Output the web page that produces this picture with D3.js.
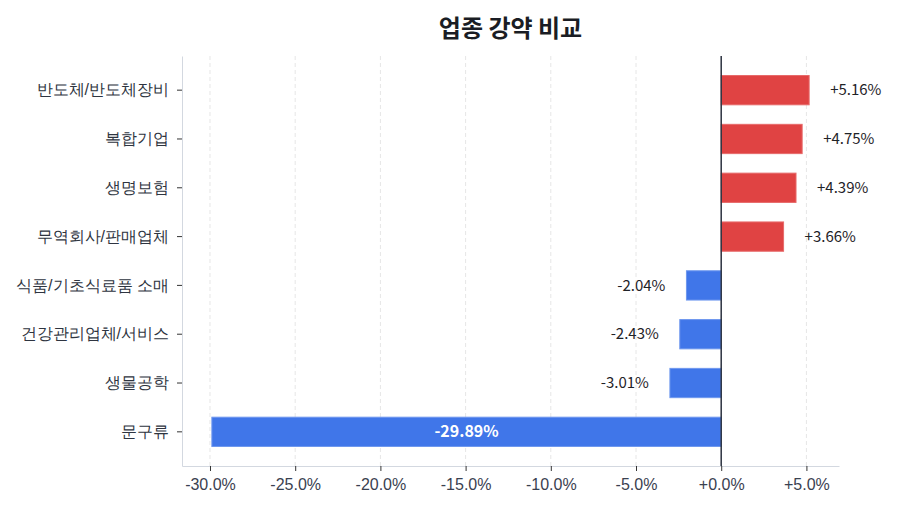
<!DOCTYPE html>
<html>
<head>
<meta charset="utf-8">
<script src="https://cdn.jsdelivr.net/npm/d3@7"></script>
<style>
  body { margin: 0; background: #fff; }
  svg { font-family: "Noto Sans CJK KR", "Noto Sans", sans-serif; }
</style>
</head>
<body>
<div id="chart"></div>
<script>
const sectors = ["반도체/반도체장비", "복합기업", "생명보험", "무역회사/판매업체",
  "식품/기초식료품 소매", "건강관리업체/서비스", "생물공학", "문구류"];
const changes = [5.16, 4.75, 4.39, 3.66, -2.04, -2.43, -3.01, -29.89];
const tickValues = [-30, -25, -20, -15, -10, -5, 0, 5];

const width = 900, height = 514;
const margin = { top: 56, right: 61, bottom: 48, left: 182 };

const data = sectors.map((s, i) => ({ name: s, value: changes[i] }));

const lo = d3.min(changes), hi = d3.max(changes);
const pad = (hi - lo) * 0.05;

const x = d3.scaleLinear()
  .domain([lo - pad, hi + pad])
  .range([margin.left, width - margin.right]);

const y = d3.scaleBand()
  .domain(sectors)
  .range([margin.top, height - margin.bottom])
  .paddingInner(0.4)
  .paddingOuter(0.4);

const svg = d3.select("#chart").append("svg")
  .attr("width", width)
  .attr("height", height);

const fmt = v => (v >= 0 ? "+" : "") + v.toFixed(1) + "%";

// grid
svg.append("g")
  .selectAll("line")
  .data(tickValues)
  .join("line")
  .attr("x1", d => x(d)).attr("x2", d => x(d))
  .attr("y1", margin.top).attr("y2", height - margin.bottom)
  .attr("stroke", "#e6e6e6")
  .attr("stroke-dasharray", "4,3");

// bars
svg.append("g")
  .selectAll("rect")
  .data(data)
  .join("rect")
  .attr("x", d => x(Math.min(0, d.value)))
  .attr("y", d => y(d.name))
  .attr("width", d => Math.abs(x(d.value) - x(0)))
  .attr("height", y.bandwidth())
  .attr("fill", d => d.value >= 0 ? "#e04343" : "#4076e9")
  .attr("stroke", d => d.value >= 0 ? "#e76a6a" : "#6e97ee")
  .attr("stroke-width", 1);

// zero line
svg.append("line")
  .attr("x1", x(0)).attr("x2", x(0))
  .attr("y1", margin.top).attr("y2", height - margin.bottom)
  .attr("stroke", "#2d3340")
  .attr("stroke-width", 1.5);

// value labels
const big = d => Math.abs(d.value) > 10;
svg.append("g")
  .selectAll("text")
  .data(data)
  .join("text")
  .attr("y", d => y(d.name) + y.bandwidth() / 2)
  .attr("dy", "0.35em")
  .attr("x", d => {
    if (big(d)) return (x(d.value) + x(0)) / 2;
    return d.value >= 0 ? x(d.value) + 21 : x(d.value) - 21;
  })
  .attr("text-anchor", d => big(d) ? "middle" : (d.value >= 0 ? "start" : "end"))
  .attr("fill", d => big(d) ? "#fff" : "#1f2328")
  .attr("font-weight", d => big(d) ? "bold" : "normal")
  .style("font-size", d => big(d) ? "16px" : "15px")
  .text(d => (d.value >= 0 ? "+" : "") + d.value.toFixed(2) + "%");

// axes
const yAxis = svg.append("g")
  .attr("transform", `translate(${margin.left},0)`)
  .call(d3.axisLeft(y).tickSize(5).tickPadding(8).tickSizeOuter(0));
yAxis.select(".domain").attr("stroke", "#d3d8e0");
yAxis.selectAll(".tick line").attr("stroke", "#333");
yAxis.selectAll(".tick text")
  .attr("fill", "#2e3440")
  .style("font-size", "16px");

const xAxis = svg.append("g")
  .attr("transform", `translate(0,${height - margin.bottom})`)
  .call(d3.axisBottom(x).tickValues(tickValues).tickFormat(fmt).tickSize(5).tickPadding(8).tickSizeOuter(0));
xAxis.select(".domain").attr("stroke", "#d3d8e0");
xAxis.selectAll(".tick line").attr("stroke", "#333");
xAxis.selectAll(".tick text")
  .attr("fill", "#3a4150")
  .style("font-size", "16px");

// title
svg.append("text")
  .attr("x", (margin.left + width - margin.right) / 2)
  .attr("y", 37)
  .attr("text-anchor", "middle")
  .attr("font-weight", "bold")
  .attr("fill", "#1a1d24")
  .style("font-size", "24px")
  .text("업종 강약 비교");
</script>
</body>
</html>
